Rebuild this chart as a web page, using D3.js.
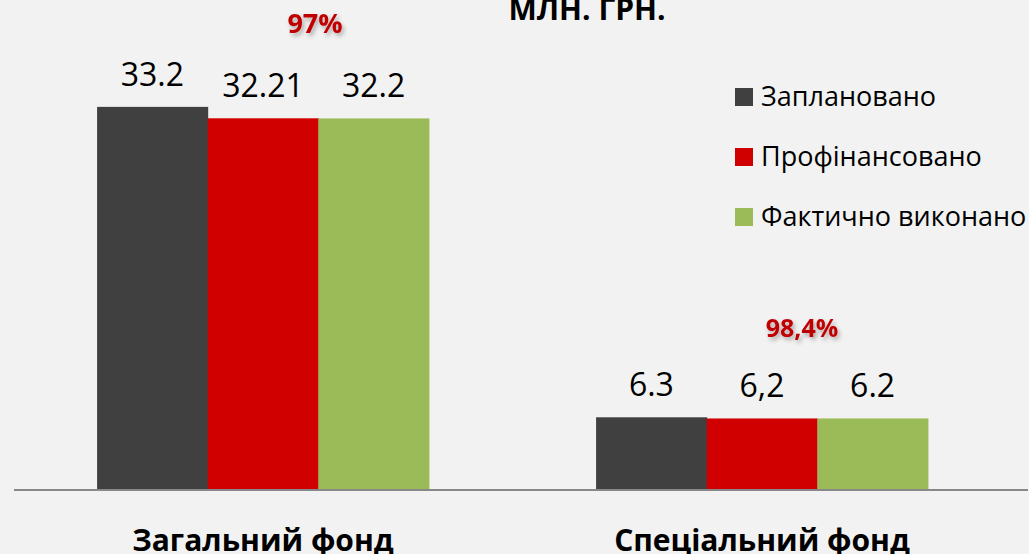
<!DOCTYPE html>
<html><head><meta charset="utf-8">
<script src="https://cdn.jsdelivr.net/npm/d3@7"></script>
<style>
html,body{margin:0;padding:0;background:#f2f2f2;overflow:hidden;}
svg{display:block;font-family:"Open Sans","Noto Sans",sans-serif;}
</style></head>
<body><svg id="c" width="1029" height="554"></svg>
<script>
const categories = ["Загальний фонд", "Спеціальний фонд"];
const seriesNames = ["Заплановано", "Профінансовано", "Фактично виконано"];
const planned = [33.2, 6.3];
const financed = [32.21, 6.2];
const executed = [32.2, 6.2];
const valueLabels = [["33.2", "32.21", "32.2"], ["6.3", "6,2", "6.2"]];
const percentLabels = ["97%", "98,4%"];
const title = "МЛН. ГРН.";
const colors = ["#404040", "#d00000", "#9bbb59"];

const series = [planned, financed, executed];
const svg = d3.select("#c");

const defs = svg.append("defs");
const f = defs.append("filter").attr("id","sh").attr("x","-20%").attr("y","-30%").attr("width","140%").attr("height","170%");
f.append("feDropShadow").attr("dx",2).attr("dy",3).attr("stdDeviation",2).attr("flood-color","#000").attr("flood-opacity",0.3);

const x0 = d3.scaleBand().domain(categories).range([13.5, 1011.5]).paddingInner(0.335).paddingOuter(0.1675);
const x1 = d3.scaleBand().domain(seriesNames).range([0, x0.bandwidth()]);
const y = d3.scaleLinear().domain([0, 40]).range([490, 28.4]);

categories.forEach((cat, ci) => {
  const g = svg.append("g").attr("transform", `translate(${x0(cat)},0)`);
  seriesNames.forEach((s, si) => {
    const v = series[si][ci];
    g.append("rect").attr("x", x1(s)).attr("y", y(v)).attr("width", x1.bandwidth()+0.5)
      .attr("height", y(0) - y(v)).attr("fill", colors[si]);
    g.append("text").attr("x", x1(s) + x1.bandwidth()/2).attr("y", y(v) - 21)
      .attr("text-anchor","middle").attr("font-size", 32).attr("fill","#000")
      .text(valueLabels[ci][si]);
  });
});

// percent labels
svg.append("text").attr("x", x0(categories[0]) + x1(seriesNames[1]) + x1.bandwidth()/2 + 52).attr("y", 33)
  .attr("text-anchor","middle").attr("font-size",27).attr("font-weight","bold").attr("fill","#c00000")
  .attr("filter","url(#sh)").text(percentLabels[0]);
svg.append("text").attr("x", x0(categories[1]) + x1(seriesNames[1]) + x1.bandwidth()/2 + 40).attr("y", 337)
  .attr("text-anchor","middle").attr("font-size",25).attr("font-weight","bold").attr("fill","#c00000")
  .attr("filter","url(#sh)").text(percentLabels[1]);

// title
svg.append("text").attr("x", 587).attr("y", 20).attr("text-anchor","middle")
  .attr("font-size", 30).attr("font-weight","bold").attr("fill","#000").text(title);

// axis
const xAxis = d3.axisBottom(x0).tickSize(0).tickPadding(34);
const ax = svg.append("g").attr("transform","translate(0,490)").call(xAxis);
ax.select(".domain").attr("d","M14,0H1028").attr("stroke","#888").attr("stroke-width",2);
ax.selectAll("text").attr("font-size",30).attr("font-weight","bold").attr("fill","#000")
  .attr("font-family","'Open Sans',sans-serif").attr("dy","0.9em");

// legend
const lg = svg.append("g");
seriesNames.forEach((s, i) => {
  const yy = 97 + i*60;
  lg.append("rect").attr("x",735).attr("y",yy-9).attr("width",18).attr("height",18).attr("fill",colors[i]);
  lg.append("text").attr("x",761).attr("y",yy).attr("dy","0.35em").attr("font-size",27).attr("fill","#000").text(s);
});
</script></body></html>
